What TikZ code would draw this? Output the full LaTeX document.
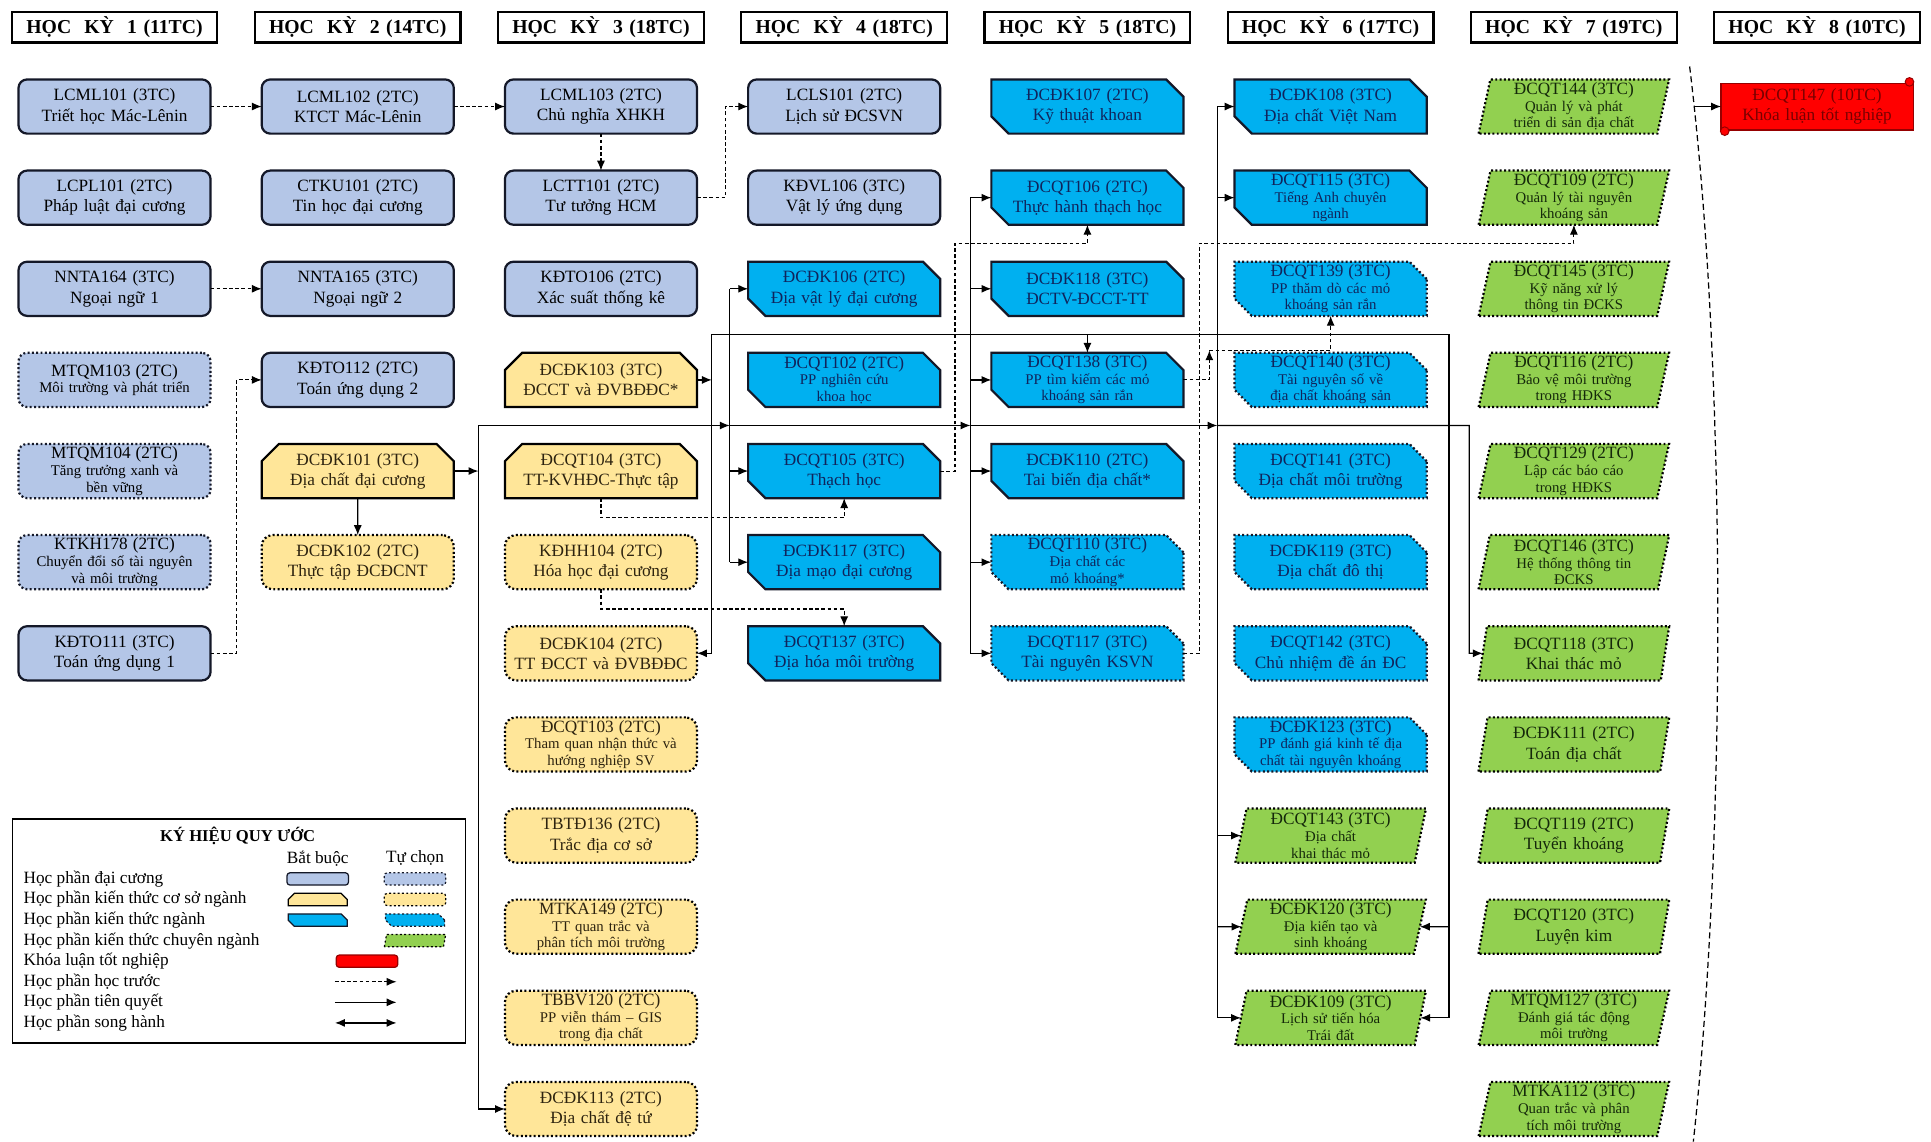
\documentclass[tikz,border=0pt]{standalone}
\usepackage{fontspec}
\setmainfont{Liberation Serif}
\usetikzlibrary{matrix,positioning,calc,arrows.meta,shapes.misc,shapes.geometric}

\definecolor{dcnen}{RGB}{180,198,231}
\definecolor{csnen}{RGB}{255,230,153}
\definecolor{ngnen}{RGB}{0,176,240}
\definecolor{cnnen}{RGB}{146,208,80}
\definecolor{klnen}{RGB}{255,0,0}
\definecolor{vien}{RGB}{20,24,40}
\definecolor{cschu}{RGB}{45,35,15}
\definecolor{ngchu}{RGB}{16,36,92}
\definecolor{cnchu}{RGB}{20,40,10}
\definecolor{klchu}{RGB}{120,0,0}
\definecolor{klvien}{RGB}{150,0,0}

\newcommand{\hocky}[2]{HỌC\ \ KỲ\ \ #1 (#2TC)}
\newcommand{\xuong}{\endgraf}
\newcommand{\mahp}[1]{{\fontsize{14}{15}\selectfont #1}\endgraf}

\tikzset{
    hocphan/.style={anchor=center, align=center, text width=146pt,
        inner xsep=5pt, inner ysep=0.5pt, outer sep=0pt,
        minimum height=44pt, line width=1.8pt,
        font=\fontsize{14}{16.5}\selectfont},
    hk/.style={rectangle, draw=black, text width=160pt, minimum width=167pt,
        minimum height=25pt, inner xsep=2pt, inner ysep=1pt,
        font=\bfseries\fontsize{16}{18}\selectfont},
    tuchon/.style={dash pattern=on 1.6pt off 1.9pt},
    dc/.style={rectangle, rounded corners=7pt, draw=vien, fill=dcnen},
    cs/.style={chamfered rectangle, chamfered rectangle corners={north west,north east},
        chamfered rectangle xsep=7pt, chamfered rectangle ysep=7pt,
        text width=138pt, inner xsep=2pt, inner ysep=-6pt, minimum width=156pt,
        draw=black, fill=csnen, text=cschu},
    csx/.style={rectangle, rounded corners=9pt, draw=black, fill=csnen, text=cschu, tuchon},
    ng/.style={chamfered rectangle, chamfered rectangle corners={north east,south west},
        chamfered rectangle xsep=7pt, chamfered rectangle ysep=7pt,
        text width=138pt, inner xsep=2pt, inner ysep=-6pt, minimum width=156pt,
        draw=vien, fill=ngnen, text=ngchu},
    cn/.style={trapezium, trapezium left angle=77, trapezium right angle=103,
        trapezium stretches=true, minimum width=155pt,
        text width=126pt, inner xsep=2pt, draw=black, fill=cnnen, text=cnchu, tuchon},
    kl/.style={rectangle, draw=klvien, fill=klnen, text=klchu, line width=1pt,
        minimum width=152pt, minimum height=38pt},
    ba/.style={font=\fontsize{12}{13.5}\selectfont},
    mau/.style={text width=2pt, minimum width=50pt, minimum height=10pt, inner sep=0pt,
        line width=1pt, rounded corners=2.5pt},
    maucv/.style={text width=44pt, inner xsep=0pt, inner ysep=2pt,
        minimum width=0pt, minimum height=0pt, line width=1pt,
        chamfered rectangle xsep=3pt, chamfered rectangle ysep=3pt},
    chu/.style={inner sep=1pt, font=\fontsize{14}{16}\selectfont},
    tieude/.style={inner sep=1pt, font=\bfseries\fontsize{13.5}{15}\selectfont},
    khung/.style={draw, line width=1pt, minimum width=368pt, minimum height=182pt, inner sep=0pt},
    tq/.style={line width=1pt},
    truoc/.style={->, line width=0.9pt, dash pattern=on 3pt off 2pt},
    cung/.style={line width=1pt, dash pattern=on 5pt off 3pt},
}

\begin{document}
\begin{tikzpicture}[x=1pt,y=-1pt,>={Latex[length=8pt,width=6.5pt]}]
\useasboundingbox (0,0) rectangle (1568,927);
\fill[white] (0,0) rectangle (1568,927);

    % cac hoc ky, moi cot mot hoc ky
    \matrix (m) [%
        matrix of nodes,%
        matrix anchor=north west,%
        column sep=28.7pt,%
        row sep=28.2pt,
        inner sep=0pt, outer sep=0pt,
        nodes={hocphan}
        ] at (8.6,8.6)
    {
    |[hk]| \hocky{1}{11} & |[hk]| \hocky{2}{14} & |[hk]| \hocky{3}{18} & |[hk]| \hocky{4}{18} &
    |[hk]| \hocky{5}{18} & |[hk]| \hocky{6}{17} & |[hk]| \hocky{7}{19} & |[hk]| \hocky{8}{10} \\
    |[dc]| LCML101 (3TC)\xuong Triết học Mác-Lênin &
    |[dc]| LCML102 (2TC)\xuong KTCT Mác-Lênin &
    |[dc]| LCML103 (2TC)\xuong Chủ nghĩa XHKH &
    |[dc]| LCLS101 (2TC)\xuong Lịch sử ĐCSVN &
    |[ng]| ĐCĐK107 (2TC)\xuong Kỹ thuật khoan &
    |[ng]| ĐCĐK108 (3TC)\xuong Địa chất Việt Nam &
    |[cn,ba]| \mahp{ĐCQT144 (3TC)}Quản lý và phát\xuong triển di sản địa chất &
    |[kl]| ĐCQT147 (10TC)\xuong Khóa luận tốt nghiệp \\
    |[dc]| LCPL101 (2TC)\xuong Pháp luật đại cương &
    |[dc]| CTKU101 (2TC)\xuong Tin học đại cương &
    |[dc]| LCTT101 (2TC)\xuong Tư tưởng HCM &
    |[dc]| KĐVL106 (3TC)\xuong Vật lý ứng dụng &
    |[ng]| ĐCQT106 (2TC)\xuong Thực hành thạch học &
    |[ng,ba]| \mahp{ĐCQT115 (3TC)}Tiếng Anh chuyên\xuong ngành &
    |[cn,ba]| \mahp{ĐCQT109 (2TC)}Quản lý tài nguyên\xuong khoáng sản \\
    |[dc]| NNTA164 (3TC)\xuong Ngoại ngữ 1 &
    |[dc]| NNTA165 (3TC)\xuong Ngoại ngữ 2 &
    |[dc]| KĐTO106 (2TC)\xuong Xác suất thống kê &
    |[ng]| ĐCĐK106 (2TC)\xuong Địa vật lý đại cương &
    |[ng]| ĐCĐK118 (3TC)\xuong ĐCTV-ĐCCT-TT &
    |[ng,tuchon,ba]| \mahp{ĐCQT139 (3TC)}PP thăm dò các mỏ\xuong khoáng sản rắn &
    |[cn,ba]| \mahp{ĐCQT145 (3TC)}Kỹ năng xử lý\xuong thông tin ĐCKS \\
    |[dc,tuchon,ba]| \mahp{MTQM103 (2TC)}Môi trường và phát triển &
    |[dc]| KĐTO112 (2TC)\xuong Toán ứng dụng 2 &
    |[cs]| ĐCĐK103 (3TC)\xuong ĐCCT và ĐVBĐĐC* &
    |[ng,ba]| \mahp{ĐCQT102 (2TC)}PP nghiên cứu\xuong khoa học &
    |[ng,ba]| \mahp{ĐCQT138 (3TC)}PP tìm kiếm các mỏ\xuong khoáng sản rắn &
    |[ng,tuchon,ba]| \mahp{ĐCQT140 (3TC)}Tài nguyên số về\xuong địa chất khoáng sản &
    |[cn,ba]| \mahp{ĐCQT116 (2TC)}Bảo vệ môi trường\xuong trong HĐKS \\
    |[dc,tuchon,ba]| \mahp{MTQM104 (2TC)}Tăng trưởng xanh và\xuong bền vững &
    |[cs]| ĐCĐK101 (3TC)\xuong Địa chất đại cương &
    |[cs]| ĐCQT104 (3TC)\xuong TT-KVHĐC-Thực tập &
    |[ng]| ĐCQT105 (3TC)\xuong Thạch học &
    |[ng]| ĐCĐK110 (2TC)\xuong Tai biến địa chất* &
    |[ng,tuchon]| ĐCQT141 (3TC)\xuong Địa chất môi trường &
    |[cn,ba]| \mahp{ĐCQT129 (2TC)}Lập các báo cáo\xuong trong HĐKS \\
    |[dc,tuchon,ba]| \mahp{KTKH178 (2TC)}Chuyển đổi số tài nguyên\xuong và môi trường &
    |[csx]| ĐCĐK102 (2TC)\xuong Thực tập ĐCĐCNT &
    |[csx]| KĐHH104 (2TC)\xuong Hóa học đại cương &
    |[ng]| ĐCĐK117 (3TC)\xuong Địa mạo đại cương &
    |[ng,tuchon,ba]| \mahp{ĐCQT110 (3TC)}Địa chất các\xuong mỏ khoáng* &
    |[ng,tuchon]| ĐCĐK119 (3TC)\xuong Địa chất đô thị &
    |[cn,ba]| \mahp{ĐCQT146 (3TC)}Hệ thống thông tin\xuong ĐCKS \\
    |[dc]| KĐTO111 (3TC)\xuong Toán ứng dụng 1 & &
    |[csx]| ĐCĐK104 (2TC)\xuong TT ĐCCT và ĐVBĐĐC &
    |[ng]| ĐCQT137 (3TC)\xuong Địa hóa môi trường &
    |[ng,tuchon]| ĐCQT117 (3TC)\xuong Tài nguyên KSVN &
    |[ng,tuchon]| ĐCQT142 (3TC)\xuong Chủ nhiệm đề án ĐC &
    |[cn]| ĐCQT118 (3TC)\xuong Khai thác mỏ \\
      & & |[csx,ba]| \mahp{ĐCQT103 (2TC)}Tham quan nhận thức và\xuong hướng nghiệp SV & & &
    |[ng,tuchon,ba]| \mahp{ĐCĐK123 (3TC)}PP đánh giá kinh tế địa\xuong chất tài nguyên khoáng &
    |[cn]| ĐCĐK111 (2TC)\xuong Toán địa chất \\
      & & |[csx]| TBTĐ136 (2TC)\xuong Trắc địa cơ sở & & &
    |[cn,ba]| \mahp{ĐCQT143 (3TC)}Địa chất\xuong khai thác mỏ &
    |[cn]| ĐCQT119 (2TC)\xuong Tuyển khoáng \\
      & & |[csx,ba]| \mahp{MTKA149 (2TC)}TT quan trắc và\xuong phân tích môi trường & & &
    |[cn,ba]| \mahp{ĐCĐK120 (3TC)}Địa kiến tạo và\xuong sinh khoáng &
    |[cn]| ĐCQT120 (3TC)\xuong Luyện kim \\
      & & |[csx,ba]| \mahp{TBBV120 (2TC)}PP viễn thám – GIS\xuong trong địa chất & & &
    |[cn,ba]| \mahp{ĐCĐK109 (3TC)}Lịch sử tiến hóa\xuong Trái đất &
    |[cn,ba]| \mahp{MTQM127 (3TC)}Đánh giá tác động\xuong môi trường \\
      & & |[csx]| ĐCĐK113 (2TC)\xuong Địa chất đệ tứ & & & &
    |[cn,ba]| \mahp{MTKA112 (3TC)}Quan trắc và phân\xuong tích môi trường \\
    };

    % cuon giay khoa luan
    \filldraw[fill=klnen, draw=klvien, line width=0.8pt] ([xshift=-3pt,yshift=1pt]m-2-8.north east) circle (3.5pt);
    \filldraw[fill=klnen, draw=klvien, line width=0.8pt] ([xshift=3pt,yshift=-1pt]m-2-8.south west) circle (3.5pt);

    % duong gom
    \coordinate (busA) at ([xshift=12pt]m-5-3.east);
    \coordinate (busB) at ([xshift=20pt]m-6-2.east);
    \coordinate (busC) at ([xshift=-15pt]m-4-4.west);
    \coordinate (busD) at ([xshift=-17pt]m-3-5.west);
    \coordinate (busE) at ([xshift=-14pt]m-2-6.west);
    \coordinate (busF) at ([xshift=18pt]m-2-6.east);
    \coordinate (busG) at ([xshift=-11pt]m-8-7.west);
    \coordinate (rowA) at ($(m-4-3)!.5!(m-5-3)$);
    \coordinate (rowB) at ($(m-5-3)!.5!(m-6-3)$);
    \coordinate (rowC) at ($(m-3-5)!.5!(m-4-5)$);

    % hoc truoc
    \draw[truoc] (m-2-1) -- (m-2-2);
    \draw[truoc] (m-4-1) -- (m-4-2);
    \draw[truoc] (m-8-1.east) -- ++(21,0) |- (m-5-2.west);
    \draw[truoc] (m-2-2) -- (m-2-3);
    \draw[truoc] (m-2-3) -- (m-3-3);
    \draw[truoc] (m-3-3.east) -- ++(23,0) |- (m-2-4.west);
    \draw[truoc] (m-6-3.south) -- ++(0,16) -| (m-6-4.south);
    \draw[truoc] (m-7-3.south) -- ++(0,16) -| (m-8-4.north);
    \draw[truoc] (m-6-4.east) -- ++(12,0) |- (rowC) -- (m-3-5.south);
    \draw[truoc] (m-8-5.east) -- ++(13,0) |- (m-3-7.south |- rowC) -- (m-3-7.south);
    \draw[truoc] (m-5-5.east) -- ++(21,0) -- ++(0,-24) coordinate (c138);
    \draw[truoc] (c138) -| (m-4-6.south);

    % tien quyet: DCDK101
    \draw[tq,->] (m-6-2) -- (m-7-2);
    \draw[tq,->] (m-6-2.east) -- (busB);
    \draw[tq,->] (busB |- rowB) -- (busB |- m-13-3) -- (m-13-3.west);
    \draw[tq,->] (busB |- rowB) -- (busC |- rowB);
    \draw[tq,->] (busC |- rowB) -- (busD |- rowB);
    \draw[tq,->] (busD |- rowB) -- (busE |- rowB);
    \draw[tq,->] (busE |- rowB) -- (busG |- rowB) -- (busG |- m-8-7) -- (m-8-7.west);
    \draw[tq] (busC |- m-4-4) -- (busC |- m-7-4);
    \foreach \r in {4,6,7} \draw[tq,->] (busC |- m-\r-4) -- (m-\r-4.west);
    \draw[tq] (busD |- m-3-5) -- (busD |- m-8-5);
    \foreach \r in {3,...,8} \draw[tq,->] (busD |- m-\r-5) -- (m-\r-5.west);
    \draw[tq] (busE |- m-2-6) -- (busE |- m-12-6);
    \foreach \r in {2,3,10,11,12} \draw[tq,->] (busE |- m-\r-6) -- (m-\r-6.west);

    % tien quyet: DCDK103
    \draw[tq,->] (m-5-3.east) -- (busA);
    \draw[tq,->] (busA |- rowA) -- (busA |- m-8-3) -- (m-8-3.east);
    \draw[tq] (busA |- rowA) -- (busF |- rowA) -- (busF |- m-12-6);
    \foreach \r in {11,12} \draw[tq,->] (busF |- m-\r-6) -- (m-\r-6.east);
    \draw[tq,->] (m-5-5 |- rowA) -- (m-5-5.north);

    % ranh gioi hoc ky 8
    \coordinate (cungtren) at (1372,54);
    \coordinate (cungduoi) at (1375,927);
    \coordinate (cungra) at (1376,0);
    \draw[cung] (cungtren) .. controls (1402,300) and (1402,680) .. (cungduoi);
    \draw[tq,->] (cungra |- m-2-8) -- (m-2-8.west);

    % ky hieu quy uoc
    \node[khung] (kh) at (194,756) {};
    \node[tieude] (khtd) at (193,679) {KÝ HIỆU QUY ƯỚC};
    \node[chu] (bb) at (258,697) {Bắt buộc};
    \node[chu] (tc) at (337,697) {Tự chọn};
    \foreach \txt [count=\i] in {Học phần đại cương, Học phần kiến thức cơ sở ngành,
        Học phần kiến thức ngành, Học phần kiến thức chuyên ngành, Khóa luận tốt nghiệp,
        Học phần học trước, Học phần tiên quyết, Học phần song hành}
    {
        \node[chu, anchor=west] (lg\i) at (18,{697+16.7*\i}) {\txt};
        \coordinate (bb\i) at (bb |- lg\i);
        \coordinate (tc\i) at (tc |- lg\i);
    }
    \node[dc, mau] (mdc) at (bb1) {};
    \node[dc, tuchon, mau] (mdcx) at (tc1) {};
    \node[cs, maucv] (mcs) at (bb2) {};
    \node[csx, mau] (mcsx) at (tc2) {};
    \node[ng, maucv] (mng) at (bb3) {};
    \node[ng, tuchon, maucv] (mngx) at (tc3) {};
    \node[cn, mau, text width=36pt, inner ysep=3pt, rounded corners=0pt] (mcn) at (tc4) {};
    \node[kl, mau] (mkl) at ([xshift=40pt]bb5) {};
    \draw[truoc] ([xshift=14pt]bb6) -- ([xshift=64pt]bb6);
    \draw[tq,->] ([xshift=14pt]bb7) -- ([xshift=64pt]bb7);
    \draw[tq,<->] ([xshift=14pt]bb8) -- ([xshift=64pt]bb8);
\end{tikzpicture}
\end{document}
